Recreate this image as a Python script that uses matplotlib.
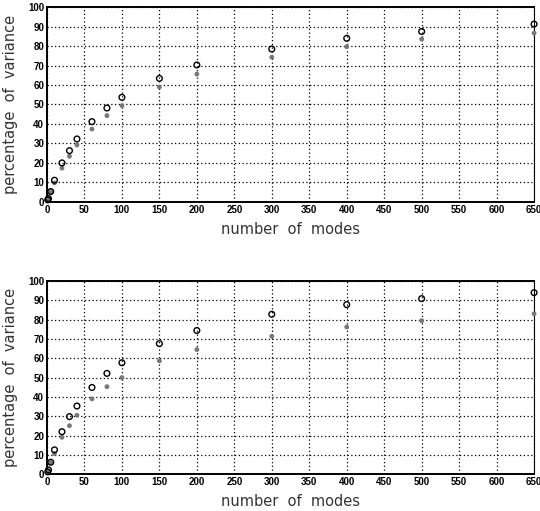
import matplotlib
matplotlib.use("Agg")
import matplotlib.pyplot as plt
import numpy as np

# number of retained modes
modes = [1, 2, 5, 10, 20, 30, 40, 60, 80, 100, 150, 200, 300, 400, 500, 650]

# upper panel
top_open = [1.0, 1.7, 5.3, 11.1, 20.0, 26.3, 32.3, 41.2, 48.2, 53.7, 63.4, 70.3, 78.5, 84.0, 87.5, 91.3]
top_fill = [0.8, 1.5, 5.2, 9.7, 17.3, 23.4, 29.2, 37.4, 44.3, 49.4, 59.0, 65.6, 74.3, 79.7, 83.6, 86.7]

# lower panel
bot_open = [1.2, 2.2, 6.2, 12.6, 22.0, 29.8, 35.3, 44.9, 52.2, 57.7, 67.6, 74.4, 82.8, 87.8, 90.9, 94.0]
bot_fill = [0.8, 1.5, 6.0, 10.7, 19.1, 25.1, 30.5, 39.0, 45.3, 50.0, 58.7, 64.5, 71.4, 76.2, 79.5, 83.1]

xticks = list(range(0, 651, 50))
yticks = list(range(0, 101, 10))

fig = plt.figure(figsize=(5.4, 5.11), dpi=100)
ax1 = fig.add_axes([0.087, 0.605, 0.902, 0.381])
ax2 = fig.add_axes([0.087, 0.072, 0.902, 0.378])


def draw_panel(ax, y_open, y_fill):
    ax.scatter(modes, y_fill, s=12, color="#777777", edgecolors="none", zorder=3, clip_on=False)
    ax.scatter(modes, y_open, s=17, facecolors="none", edgecolors="black", linewidths=1.0,
               zorder=4, clip_on=False)
    ax.set_xlim(0, 650)
    ax.set_ylim(0, 100)
    ax.set_xticks(xticks)
    ax.set_yticks(yticks)
    ax.grid(True, color="black", linestyle=(0, (1, 2)), linewidth=0.9)
    ax.set_axisbelow(True)
    ax.tick_params(length=0, pad=2)
    for lab in ax.get_xticklabels() + ax.get_yticklabels():
        lab.set_fontsize(7)
        lab.set_fontweight("bold")
        lab.set_family("Liberation Sans")
    for side in ["left", "top", "bottom"]:
        ax.spines[side].set_linewidth(1.4)
    ax.spines["right"].set_linewidth(0.8)
    ax.set_xlabel("number  of  modes", fontsize=10.5, family="DejaVu Sans",
                  color="#333333", labelpad=5)
    ax.set_ylabel("percentage  of  variance", fontsize=10.5, family="DejaVu Sans",
                  color="#333333", labelpad=7)


draw_panel(ax1, top_open, top_fill)
draw_panel(ax2, bot_open, bot_fill)

fig.savefig("out.png", dpi=100)
